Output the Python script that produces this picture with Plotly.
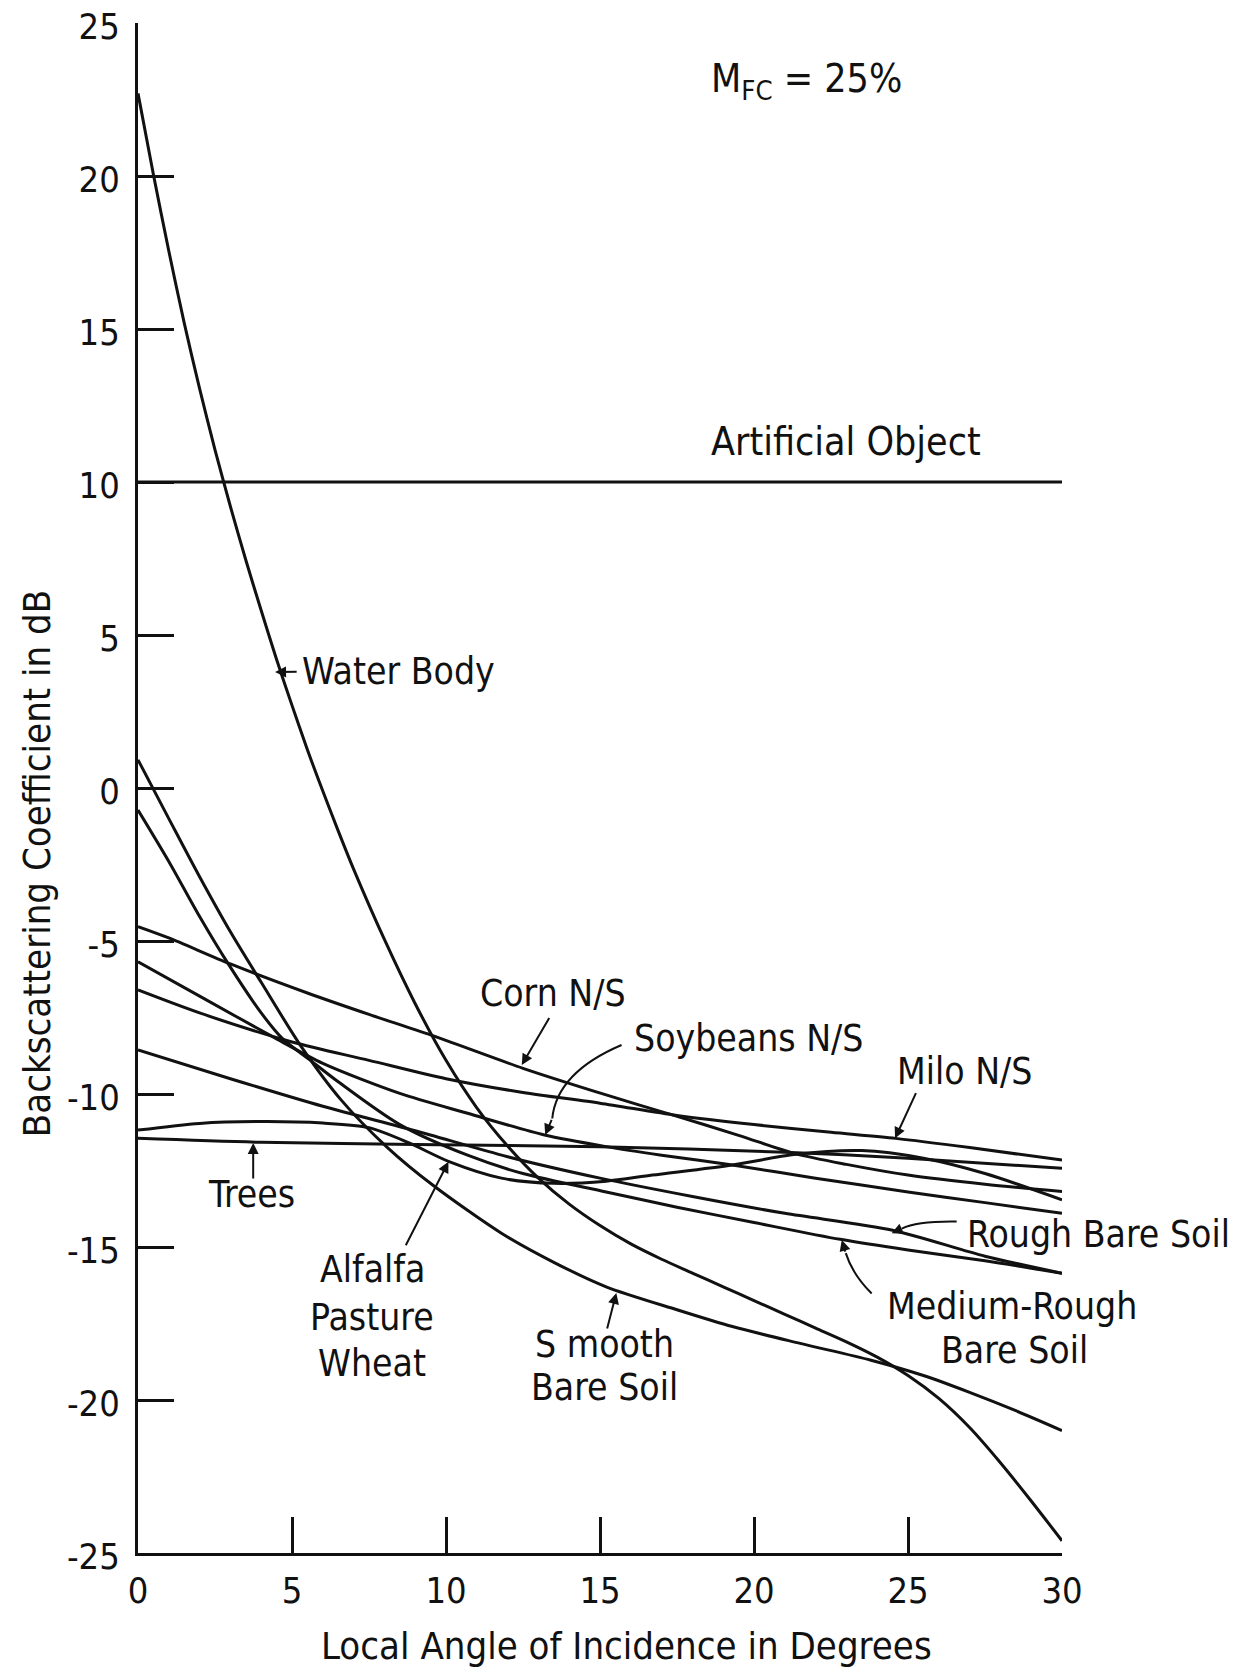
import plotly.graph_objects as go

# ---------------- data ----------------
x_tick_vals = [0, 5, 10, 15, 20, 25, 30]
x_tick_text = ["0", "5", "10", "15", "20", "25", "30"]
y_tick_vals = [25, 20, 15, 10, 5, 0, -5, -10, -15, -20, -25]
y_tick_text = ["25", "20", "15", "10", "5", "0", "-5", "-10", "-15", "-20", "-25"]

artificial_x = [0, 30]
artificial_y = [10, 10]

water_x = [0, 0.5, 1, 1.5, 2, 2.5, 3, 3.5, 4, 4.5, 5, 5.5, 6, 6.5, 7, 8, 9, 10, 11, 12,
           13, 14, 15, 16, 17, 18, 19, 20, 21, 22, 23, 24, 25, 26, 27, 28, 29, 30]
water_y = [22.7, 20.05, 17.55, 15.2, 13.05, 11.05, 9.2, 7.45, 5.8, 4.2, 2.7, 1.25, -0.1,
           -1.4, -2.65, -4.95, -7.05, -8.9, -10.45, -11.7, -12.75, -13.6, -14.3, -14.9,
           -15.4, -15.85, -16.3, -16.75, -17.2, -17.65, -18.1, -18.6, -19.2, -19.95, -20.9,
           -22.05, -23.3, -24.6]

smooth_x = [0, 1, 2, 3, 4, 5.3, 6.6, 8.1, 9.6, 11.8, 13.5, 15.2, 17.5, 19.3, 21.5, 23.8,
            25.5, 27, 28.5, 30]
smooth_y = [0.92, -1.0, -2.9, -4.7, -6.35, -8.45, -10.2, -11.75, -13.0, -14.55, -15.5, -16.3,
            -17.05, -17.6, -18.15, -18.7, -19.2, -19.75, -20.35, -21.0]

medrough_x = [0, 1, 2, 2.9, 4, 4.7, 5.6, 6.5, 8.5, 10.7, 12.5, 15.2, 17.5, 20, 22.8, 25, 27.5, 30]
medrough_y = [-0.72, -2.4, -4.2, -5.7, -7.35, -8.2, -8.9, -9.6, -11.0, -12.0, -12.6, -13.2,
              -13.7, -14.2, -14.75, -15.1, -15.45, -15.86]

rough_x = [0, 3, 6, 9, 12, 15, 18, 21, 24.5, 27.5, 30]
rough_y = [-8.56, -9.5, -10.4, -11.2, -12.05, -12.75, -13.35, -13.9, -14.45, -15.3, -15.86]

corn_x = [0, 1, 3, 5.5, 7.5, 9.5, 12.5, 15.2, 17.4, 19.5, 21.3, 23, 25, 27.5, 30]
corn_y = [-4.53, -4.9, -5.75, -6.7, -7.4, -8.07, -9.16, -10.03, -10.7, -11.35, -11.94,
          -12.3, -12.65, -12.95, -13.19]

milo_x = [0, 2, 5, 7.5, 10, 12.5, 15, 17.5, 20, 22.5, 24.6, 27, 30]
milo_y = [-6.6, -7.35, -8.3, -8.9, -9.5, -9.95, -10.3, -10.7, -11.0, -11.25, -11.45, -11.75, -12.16]

soy_x = [0, 2, 4.5, 6, 8.5, 10.7, 13.2, 15.2, 17, 19.3, 22, 25, 27.5, 30]
soy_y = [-5.68, -6.8, -8.2, -9.0, -9.98, -10.63, -11.34, -11.72, -12.0, -12.32, -12.75,
         -13.2, -13.55, -13.9]

trees_x = [0, 4, 9, 15, 21, 25, 30]
trees_y = [-11.45, -11.58, -11.65, -11.72, -11.9, -12.1, -12.43]

alfalfa_x = [0, 2, 4.2, 6, 7.5, 8.8, 10.1, 11.8, 13.5, 15.2, 16.7, 19.3, 21.3, 23.5, 25.5, 27.5, 30]
alfalfa_y = [-11.18, -10.96, -10.9, -10.95, -11.1, -11.6, -12.21, -12.75, -12.92, -12.85,
             -12.65, -12.32, -11.98, -11.85, -12.1, -12.6, -13.46]

series = [
    ("Artificial Object", artificial_x, artificial_y),
    ("Water Body", water_x, water_y),
    ("Smooth Bare Soil", smooth_x, smooth_y),
    ("Medium-Rough Bare Soil", medrough_x, medrough_y),
    ("Rough Bare Soil", rough_x, rough_y),
    ("Corn N/S", corn_x, corn_y),
    ("Milo N/S", milo_x, milo_y),
    ("Soybeans N/S", soy_x, soy_y),
    ("Trees", trees_x, trees_y),
    ("Alfalfa Pasture Wheat", alfalfa_x, alfalfa_y),
]

FONT = "DejaVu Sans Condensed, Liberation Sans Narrow, Arial Narrow, sans-serif"
INK = "#111111"
LABEL_SIZE = 37

fig = go.Figure()
for name, xs, ys in series:
    fig.add_trace(go.Scatter(
        x=xs, y=ys, name=name, mode="lines",
        line=dict(color=INK, width=3, shape="spline", smoothing=0.8),
        showlegend=False, hoverinfo="x+y+name",
    ))

# ---------------- labels ----------------
def label(text, x, y, size=LABEL_SIZE, xanchor="center"):
    fig.add_annotation(x=x, y=y, xref="x", yref="y", text=text, showarrow=False,
                       font=dict(family=FONT, size=size, color=INK), xanchor=xanchor,
                       yanchor="middle")

def arrow(x_tail, y_tail, x_tip, y_tip):
    fig.add_annotation(x=x_tip, y=y_tip, ax=x_tail, ay=y_tail, xref="x", yref="y",
                       axref="x", ayref="y", text="", showarrow=True, arrowhead=2,
                       arrowsize=1.1, arrowwidth=2, arrowcolor=INK)

def curve(path):
    fig.add_shape(type="path", xref="x", yref="y", path=path,
                  line=dict(color=INK, width=2))

label("M<sub>FC</sub> = 25%", 21.7, 23.1, size=39)
label("Artificial Object", 23.0, 11.34, size=39)
label("Water Body", 5.25, 3.82, xanchor="left")
arrow(5.2, 3.80, 4.45, 3.79)
label("Corn N/S", 13.47, -6.73)
arrow(13.38, -7.47, 12.46, -9.05)
label("Soybeans N/S", 19.81, -8.2)
curve("M 15.7,-8.4 Q 13.6,-9.3 13.45,-10.8")
arrow(13.45, -10.8, 13.22, -11.34)
label("Milo N/S", 26.82, -9.28)
arrow(25.28, -9.92, 24.58, -11.45)
label("Trees", 3.7, -13.27)
arrow(3.74, -12.81, 3.74, -11.60)
label("Alfalfa", 7.6, -15.75)
label("Pasture", 7.6, -17.29)
label("Wheat", 7.6, -18.82)
arrow(8.67, -14.99, 10.08, -12.21)
label("S mooth", 15.13, -18.2)
label("Bare Soil", 15.13, -19.6)
arrow(15.22, -17.71, 15.53, -16.5)
label("Rough Bare Soil", 26.85, -14.6, xanchor="left")
curve("M 26.58,-14.17 Q 25.3,-14.15 24.8,-14.4")
arrow(24.8, -14.4, 24.47, -14.55)
label("Medium-Rough", 28.38, -16.93)
label("Bare Soil", 28.47, -18.37)
curve("M 23.82,-16.52 Q 23.2,-15.9 22.98,-15.2")
arrow(22.98, -15.2, 22.85, -14.77)

# axis titles
fig.add_annotation(text="Local Angle of Incidence in Degrees", xref="paper", yref="paper",
                   x=0.529, y=-0.061, showarrow=False, xanchor="center", yanchor="middle",
                   font=dict(family=FONT, size=38, color=INK))
fig.add_annotation(text="Backscattering Coefficient in dB", xref="paper", yref="paper",
                   x=-0.109, y=0.451, showarrow=False, xanchor="center", yanchor="middle",
                   textangle=-90, font=dict(family=FONT, size=38, color=INK))

axis_common = dict(showline=True, linecolor=INK, linewidth=3, ticks="inside", ticklen=36,
                   tickwidth=2.5, tickcolor=INK, showgrid=False, zeroline=False,
                   tickfont=dict(family=FONT, size=36, color=INK), mirror=False,
                   automargin=False, ticklabeloverflow="allow")

fig.update_xaxes(range=[0, 30], tickvals=x_tick_vals, ticktext=x_tick_text,
                 ticklabelstandoff=4, **axis_common)
fig.update_yaxes(range=[-25, 25], tickvals=y_tick_vals, ticktext=y_tick_text,
                 ticklabelstandoff=8, ticklabelshift=3, **axis_common)

# plot area sits at x 138..1062, y 23..1553 in the window
fig.update_layout(width=1254, height=1676, paper_bgcolor="white", plot_bgcolor="white",
                  margin=dict(l=138, r=192, t=23, b=123), showlegend=False)

# remove the browser's default body margin so the figure starts at the window corner
fig.write_html("out.html", config={"displayModeBar": False},
               post_script="document.body.style.margin='0px';")
